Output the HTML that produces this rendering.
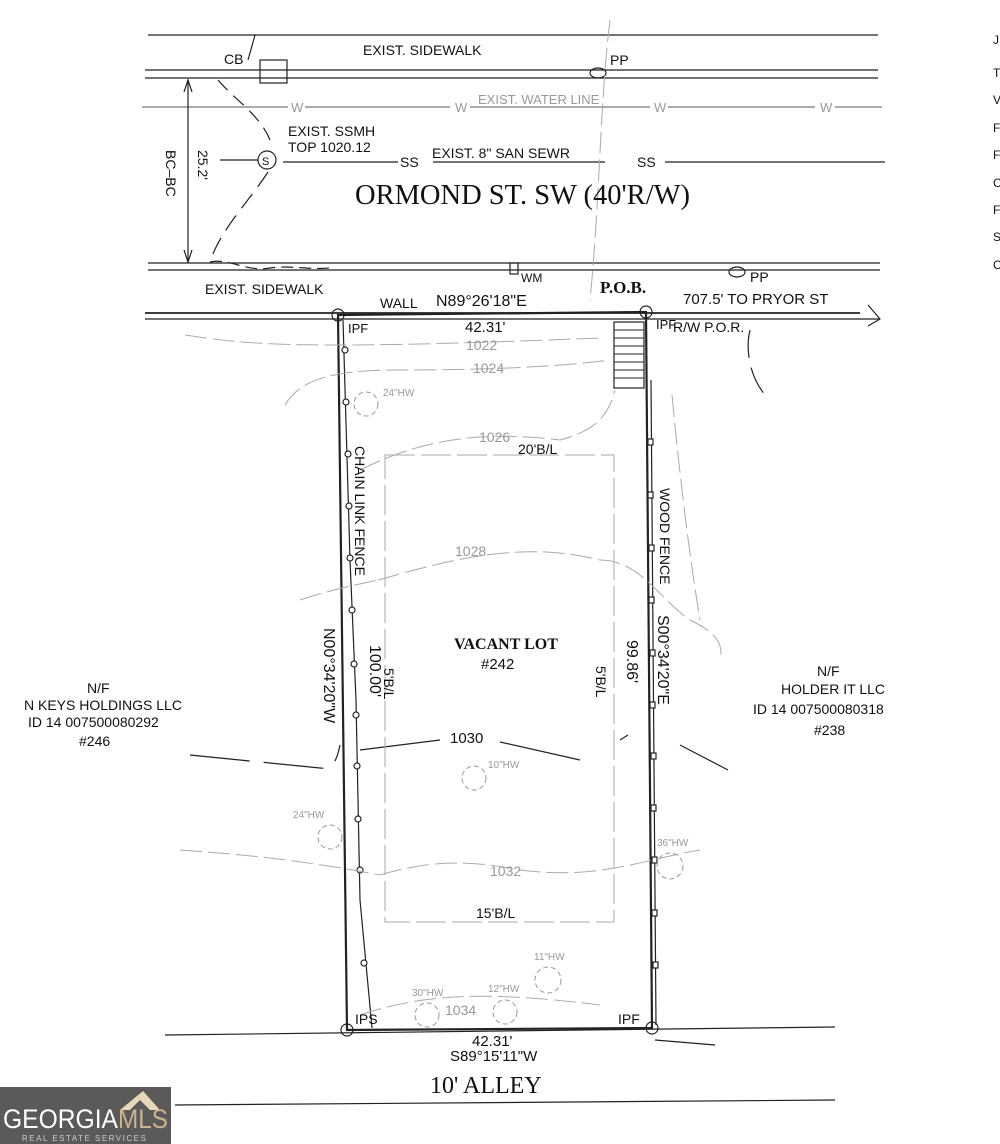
<!DOCTYPE html>
<html><head><meta charset="utf-8"><style>
html,body{margin:0;padding:0;background:#fff;width:1000px;height:1144px;overflow:hidden}
svg{display:block}
text{font-family:"Liberation Sans",sans-serif;fill:#111}
.s{font-family:"Liberation Serif",serif}
.g{fill:#999}
</style></head><body>
<svg width="1000" height="1144" viewBox="0 0 1000 1144" xmlns="http://www.w3.org/2000/svg">
<g stroke="#222" fill="none" stroke-width="1.2">
<!-- street lines -->
<line x1="148" y1="35" x2="878" y2="35"/>
<line x1="145" y1="70" x2="878" y2="70"/>
<line x1="145" y1="78" x2="878" y2="78"/>
<line x1="148" y1="263" x2="880" y2="263"/>
<line x1="148" y1="270" x2="880" y2="270"/>
<line x1="145" y1="313" x2="860" y2="313" stroke-width="1.8"/>
<line x1="145" y1="319" x2="880" y2="319"/>
<polyline points="868,305 880,319 868,326"/>
<rect x="260" y="60" width="27" height="23"/>
<line x1="283" y1="162" x2="398" y2="162"/><line x1="433" y1="162" x2="605" y2="162"/><line x1="665" y1="162" x2="885" y2="162"/>
<!-- water line -->
<g stroke="#777"><line x1="142" y1="107" x2="288" y2="107"/><line x1="305" y1="107" x2="450" y2="107"/><line x1="470" y1="107" x2="650" y2="107"/><line x1="668" y1="107" x2="815" y2="107"/><line x1="835" y1="107" x2="882" y2="107"/></g>
<!-- dimension 25.2 -->
<line x1="188" y1="80" x2="188" y2="262"/>
<polyline points="184,92 188,80 192,92"/><polyline points="184,250 188,262 192,250"/>
<!-- dashed curb -->
<path d="M218,80 C235,100 260,115 270,140" stroke-dasharray="14,8"/>
<path d="M268,172 C250,200 220,230 210,262" stroke-dasharray="18,9"/>
<path d="M255,35 L248,60" />
<path d="M210,262 C230,258 245,272 270,268 C290,265 310,270 330,268" stroke-dasharray="12,6"/>
<circle cx="267" cy="160" r="9"/>
<line x1="220" y1="160" x2="258" y2="160"/>
<!-- lot -->
<polygon points="338,315 646,312 652,1028 347,1030" stroke-width="2.2"/>
<circle cx="338" cy="315" r="6"/><circle cx="646" cy="312" r="6"/><circle cx="652" cy="1028" r="6"/><circle cx="347" cy="1030" r="6"/>
<line x1="165" y1="1035" x2="835" y2="1027"/>
<line x1="175" y1="1105" x2="835" y2="1100"/>
<path d="M655,1040 L715,1045"/>
<!-- stairs -->
<rect x="614" y="322" width="30" height="66"/>
<g stroke-width="1"><line x1="614" y1="330" x2="644" y2="330"/><line x1="614" y1="338" x2="644" y2="338"/><line x1="614" y1="346" x2="644" y2="346"/><line x1="614" y1="354" x2="644" y2="354"/><line x1="614" y1="362" x2="644" y2="362"/><line x1="614" y1="370" x2="644" y2="370"/><line x1="614" y1="378" x2="644" y2="378"/></g>
<!-- chain link fence -->
<path d="M343,320 L350,560 L356,700 L360,900 L372,1028"/>
<g fill="#fff"><circle cx="345" cy="350" r="3"/><circle cx="346" cy="402" r="3"/><circle cx="348" cy="454" r="3"/><circle cx="349" cy="506" r="3"/><circle cx="350" cy="558" r="3"/><circle cx="352" cy="610" r="3"/><circle cx="354" cy="664" r="3"/><circle cx="356" cy="715" r="3"/><circle cx="357" cy="766" r="3"/><circle cx="358" cy="819" r="3"/><circle cx="360" cy="870" r="3"/><circle cx="364" cy="963" r="3"/></g>
<!-- wood fence -->
<line x1="651" y1="380" x2="656" y2="1025"/>
<g fill="#fff"><rect x="648" y="439" width="5" height="6"/><rect x="648" y="492" width="5" height="6"/><rect x="649" y="545" width="5" height="6"/><rect x="649" y="597" width="5" height="6"/><rect x="650" y="650" width="5" height="6"/><rect x="650" y="702" width="5" height="6"/><rect x="651" y="753" width="5" height="6"/><rect x="651" y="805" width="5" height="6"/><rect x="652" y="857" width="5" height="6"/><rect x="652" y="910" width="5" height="6"/><rect x="653" y="962" width="5" height="6"/></g>
<rect x="510" y="263" width="8" height="11"/>
<ellipse cx="598" cy="73" rx="8" ry="5"/><ellipse cx="737" cy="272" rx="8" ry="5"/>
<path d="M750,330 C745,350 750,380 768,398" stroke-dasharray="28,10"/>
<path d="M190,755 L320,768 C335,770 338,755 340,745" stroke-dasharray="60,14"/>
<path d="M360,750 L440,740 M500,742 L580,760 M620,740 L628,735 M680,745 L728,770" />
</g>
<!-- building line -->
<rect x="385" y="455" width="229" height="467" fill="none" stroke="#aaa" stroke-width="1" stroke-dasharray="30,6"/>
<!-- contours -->
<g fill="none" stroke="#aaa" stroke-width="1" stroke-dasharray="22,6">
<path d="M185,335 C250,345 300,350 600,338"/>
<path d="M285,405 C300,380 330,370 400,370 C470,370 550,368 610,360"/>
<path d="M360,470 C420,440 480,430 560,440 C600,430 610,410 615,390"/>
<path d="M378,580 C450,560 520,540 600,560 C640,560 660,600 690,620 C710,630 725,640 720,660"/>
<path d="M300,600 C330,590 355,585 378,580"/>
<path d="M380,875 C430,860 470,860 520,870 C600,880 640,860 700,850"/>
<path d="M180,850 C250,855 300,860 380,875"/>
<path d="M360,1015 C420,995 480,990 600,1005"/>
<path d="M610,20 C600,100 600,200 590,300"/>
<path d="M672,395 C680,480 690,560 700,620"/>
</g>
<!-- trees -->
<g fill="none" stroke="#999" stroke-width="1">
<circle cx="366" cy="404" r="12" stroke-dasharray="5,3"/><circle cx="474" cy="778" r="12" stroke-dasharray="5,3"/>
<circle cx="330" cy="837" r="12" stroke-dasharray="5,3"/><circle cx="670" cy="866" r="13" stroke-dasharray="5,3"/>
<circle cx="548" cy="980" r="13" stroke-dasharray="5,3"/><circle cx="505" cy="1012" r="12" stroke-dasharray="5,3"/>
<circle cx="427" cy="1015" r="12" stroke-dasharray="5,3"/>
</g>
<!-- text -->
<text x="363" y="55" font-size="14">EXIST. SIDEWALK</text>
<text x="224" y="64" font-size="14">CB</text>
<text x="610" y="65" font-size="14">PP</text>
<g class="g" font-size="13"><text x="291" y="112" class="g">W</text><text x="455" y="112" class="g">W</text><text x="478" y="104" class="g">EXIST. WATER LINE</text><text x="654" y="112" class="g">W</text><text x="820" y="112" class="g">W</text></g>
<text x="288" y="136" font-size="14">EXIST. SSMH</text>
<text x="288" y="152" font-size="14">TOP 1020.12</text>
<text x="262" y="165" font-size="11">S</text>
<text x="400" y="167" font-size="14">SS</text><text x="432" y="158" font-size="14">EXIST. 8" SAN SEWR</text><text x="637" y="167" font-size="14">SS</text>
<text class="s" x="355" y="204" font-size="28" textLength="335" lengthAdjust="spacingAndGlyphs">ORMOND ST. SW (40'R/W)</text>
<text transform="translate(198,150) rotate(90)" font-size="14">25.2'</text>
<text transform="translate(166,150) rotate(90)" font-size="14">BC–BC</text>
<text x="205" y="294" font-size="14">EXIST. SIDEWALK</text>
<text x="521" y="282" font-size="12">WM</text>
<text x="750" y="282" font-size="14">PP</text>
<text x="600" y="293" font-size="17" font-weight="bold" class="s">P.O.B.</text>
<text x="380" y="308" font-size="14">WALL</text>
<text x="436" y="306" font-size="16">N89°26'18"E</text>
<text x="683" y="304" font-size="15">707.5' TO PRYOR ST</text>
<text x="465" y="332" font-size="15">42.31'</text>
<text x="348" y="333" font-size="13">IPF</text>
<text x="656" y="329" font-size="13">IPF</text>
<text x="673" y="332" font-size="14">R/W P.O.R.</text>
<g class="g" font-size="14"><text x="466" y="350" class="g">1022</text><text x="473" y="373" class="g">1024</text><text x="479" y="442" class="g">1026</text><text x="455" y="556" class="g">1028</text><text x="490" y="876" class="g">1032</text><text x="445" y="1015" class="g">1034</text></g>
<text x="450" y="743" font-size="15">1030</text>
<g class="g" font-size="10"><text x="383" y="396" class="g">24"HW</text><text x="488" y="768" class="g">10"HW</text><text x="293" y="818" class="g">24"HW</text><text x="657" y="846" class="g">36"HW</text><text x="534" y="960" class="g">11"HW</text><text x="488" y="992" class="g">12"HW</text><text x="412" y="996" class="g">30"HW</text></g>
<text x="518" y="454" font-size="14">20'B/L</text>
<text x="476" y="918" font-size="14">15'B/L</text>
<text transform="translate(355,446) rotate(90)" font-size="14">CHAIN LINK FENCE</text>
<text transform="translate(660,488) rotate(90)" font-size="14">WOOD FENCE</text>
<text transform="translate(658,615) rotate(90)" font-size="16">S00°34'20"E</text>
<text transform="translate(324,628) rotate(90)" font-size="16">N00°34'20"W</text>
<text transform="translate(370,645) rotate(90)" font-size="16">100.00'</text>
<text transform="translate(627,640) rotate(90)" font-size="16">99.86'</text>
<text transform="translate(384,668) rotate(90)" font-size="14">5'B/L</text>
<text transform="translate(596,666) rotate(90)" font-size="14">5'B/L</text>
<text x="454" y="649" font-size="16" font-weight="bold" class="s">VACANT LOT</text>
<text x="481" y="669" font-size="15">#242</text>
<g font-size="14"><text x="87" y="693">N/F</text><text x="24" y="710">N KEYS HOLDINGS LLC</text><text x="28" y="727">ID 14 007500080292</text><text x="79" y="746">#246</text>
<text x="817" y="676">N/F</text><text x="781" y="694">HOLDER IT LLC</text><text x="753" y="714">ID 14 007500080318</text><text x="814" y="735">#238</text></g>
<text x="355" y="1024" font-size="14">IPS</text>
<text x="618" y="1024" font-size="14">IPF</text>
<text x="472" y="1046" font-size="15">42.31'</text>
<text x="450" y="1061" font-size="15">S89°15'11"W</text>
<text class="s" x="430" y="1093" font-size="24">10' ALLEY</text>
<g font-size="12" fill="#333"><text x="993" y="44">J</text><text x="993" y="77">T</text><text x="993" y="104">V</text><text x="993" y="132">F</text><text x="993" y="159">F</text><text x="993" y="187">C</text><text x="993" y="214">F</text><text x="993" y="241">S</text><text x="993" y="269">C</text></g>
<!-- logo -->
<rect x="0" y="1087" width="171" height="57" fill="#5b5a58"/>
<polygon points="120,1110 143,1091 160,1110 150,1110 140,1100 130,1110" fill="#e6d8bd"/>
<text x="3" y="1128" font-size="27" fill="#fff" style="fill:#fff" textLength="115" lengthAdjust="spacingAndGlyphs">GEORGIA</text>
<text x="118" y="1128" font-size="27" style="fill:#c9b48f" textLength="50" lengthAdjust="spacingAndGlyphs">MLS</text>
<text x="22" y="1141" font-size="8" style="fill:#ccc" letter-spacing="1.5">REAL ESTATE SERVICES</text>
</svg>
</body></html>
